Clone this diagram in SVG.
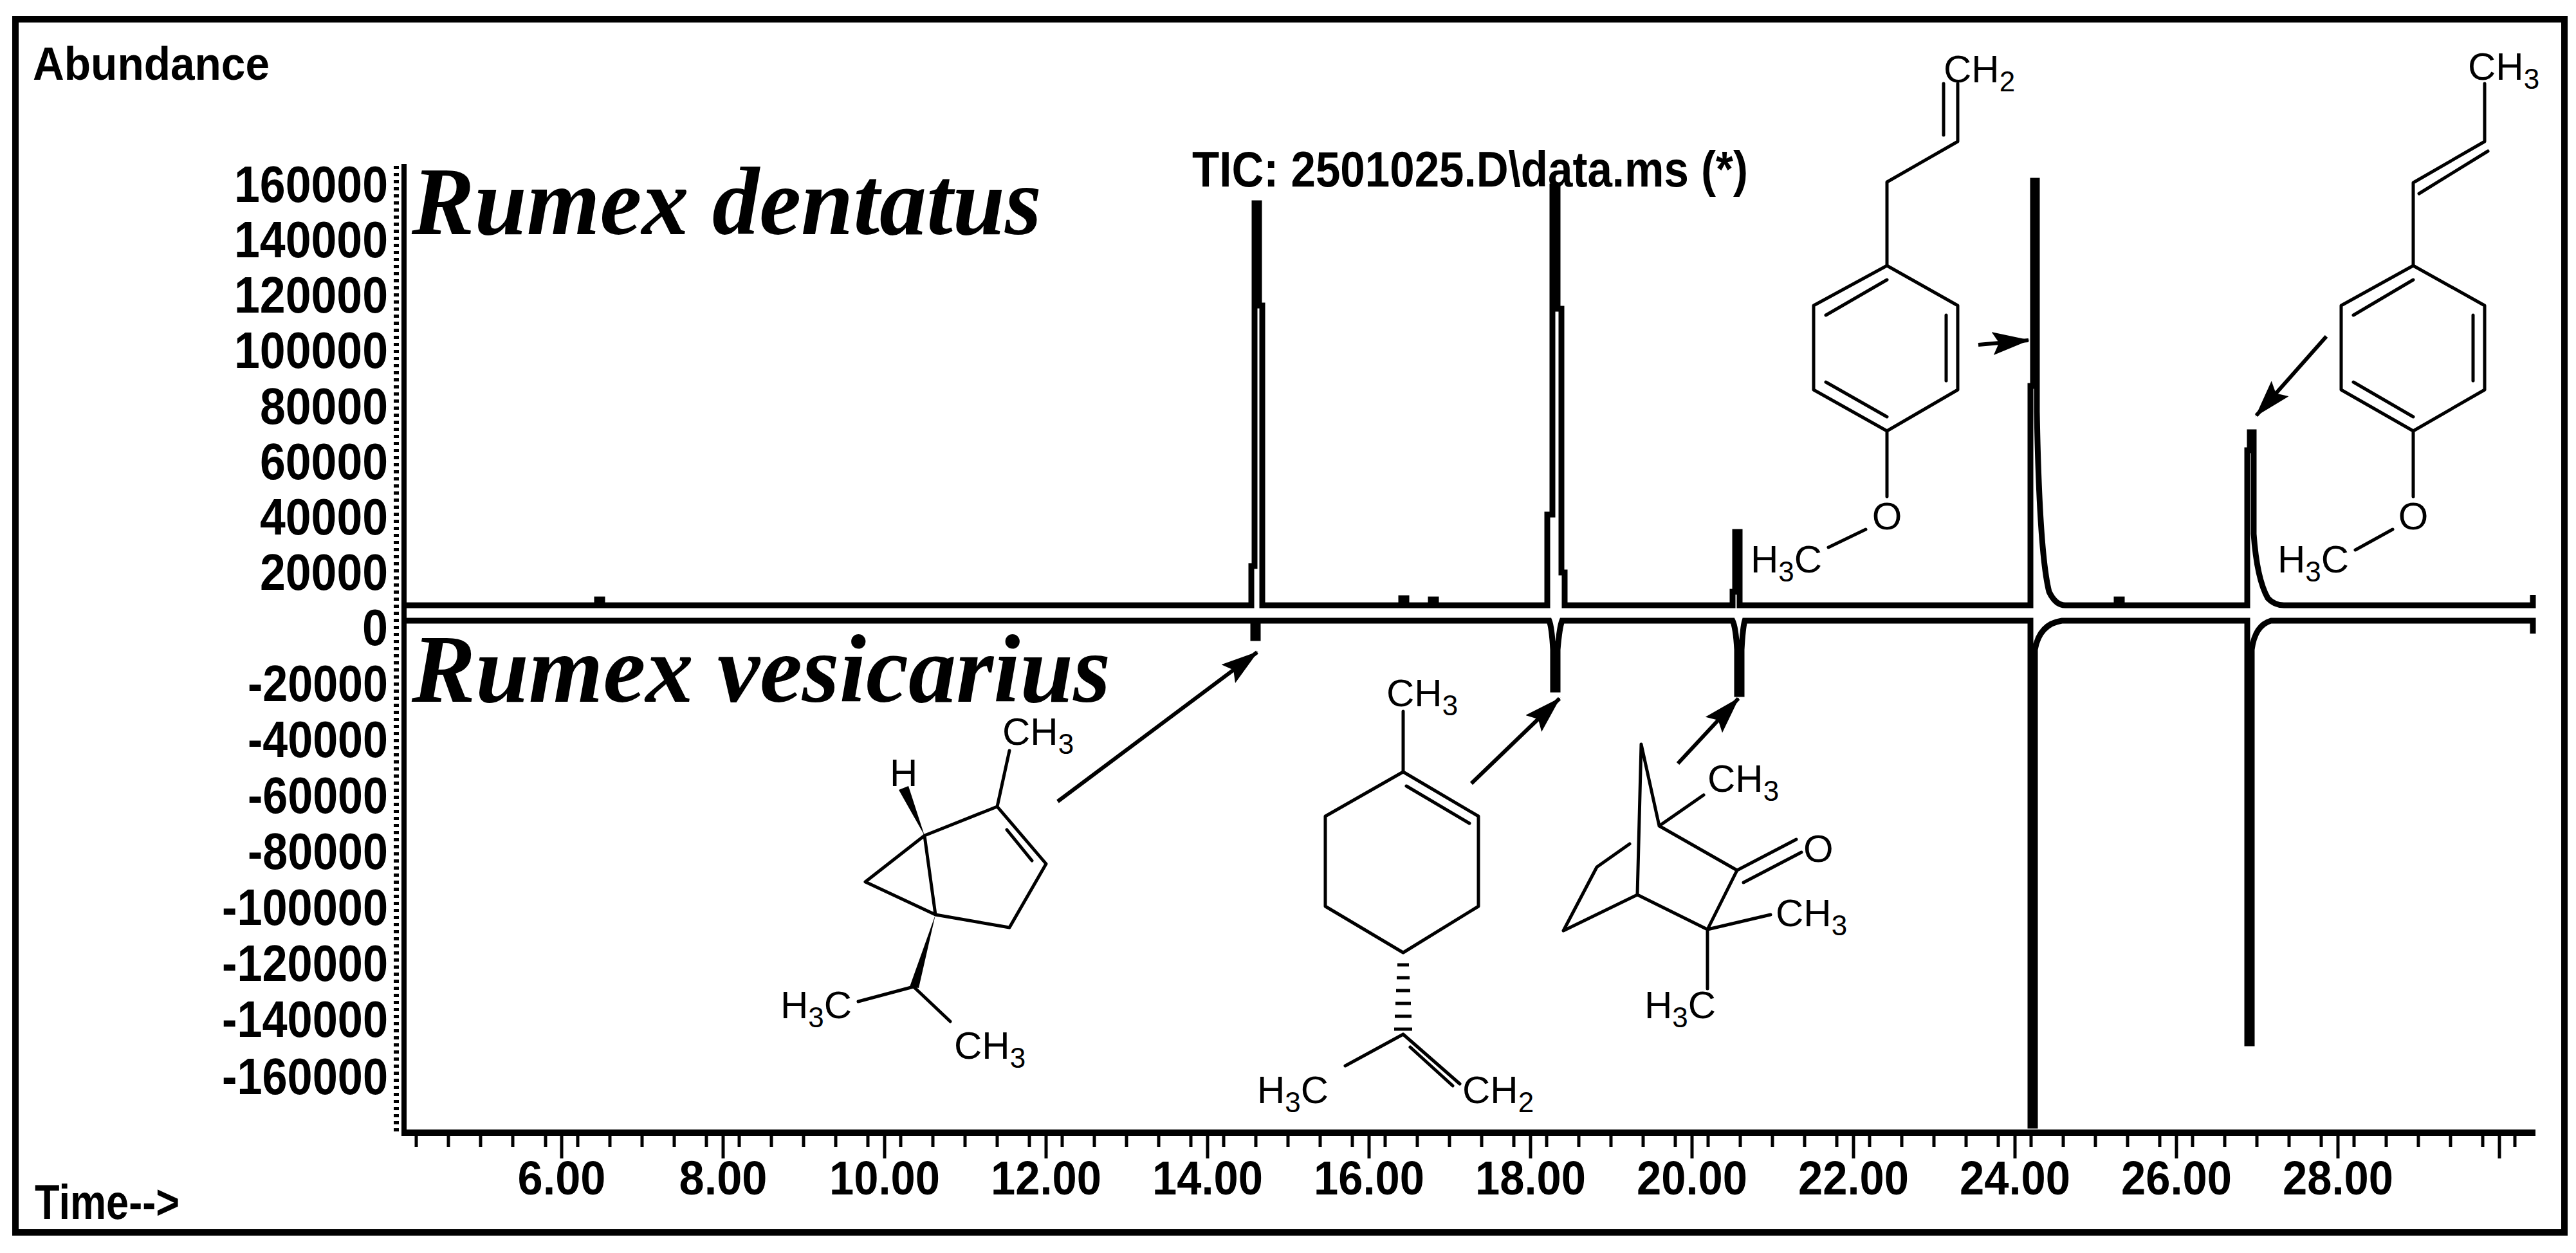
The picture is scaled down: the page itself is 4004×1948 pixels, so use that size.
<svg xmlns="http://www.w3.org/2000/svg" width="4004" height="1948" viewBox="0 0 4004 1948">
<style>
.ax{font-family:"Liberation Sans",Arial,sans-serif;font-weight:bold;fill:#000}
.sp{font-family:"Liberation Serif","Times New Roman",serif;font-style:italic;font-weight:bold;fill:#000}
.ch{font-family:"Liberation Sans",Arial,sans-serif;font-size:60px;fill:#000}
.bd{stroke:#000;stroke-width:5;fill:none;stroke-linecap:round;stroke-linejoin:round}
.tr{stroke:#000;stroke-width:9;fill:none;stroke-linejoin:miter}
.ar{stroke:#000;stroke-width:6;fill:none}
</style>
<defs>
<marker id="ah" markerUnits="userSpaceOnUse" markerWidth="60" markerHeight="40" refX="56" refY="18" orient="auto">
<path d="M0,0 L58,18 L0,36 L10,18 Z" fill="#000"/>
</marker>
</defs>
<rect x="24" y="30" width="3962" height="1886" fill="#fff" stroke="#000" stroke-width="10"/>
<g id="axes">
<text class="ax" x="51" y="124" font-size="72" textLength="368" lengthAdjust="spacingAndGlyphs">Abundance</text>
<text class="ax" x="54" y="1895" font-size="76" textLength="225" lengthAdjust="spacingAndGlyphs">Time--&gt;</text>
<text class="ax" x="1853" y="290" font-size="78" textLength="864" lengthAdjust="spacingAndGlyphs">TIC: 2501025.D\data.ms (*)</text>
<g class="ax" font-size="80" text-anchor="end">
<text x="603" y="314" textLength="239" lengthAdjust="spacingAndGlyphs">160000</text>
<text x="603" y="400" textLength="239" lengthAdjust="spacingAndGlyphs">140000</text>
<text x="603" y="486" textLength="239" lengthAdjust="spacingAndGlyphs">120000</text>
<text x="603" y="572" textLength="239" lengthAdjust="spacingAndGlyphs">100000</text>
<text x="603" y="659" textLength="199" lengthAdjust="spacingAndGlyphs">80000</text>
<text x="603" y="745" textLength="199" lengthAdjust="spacingAndGlyphs">60000</text>
<text x="603" y="831" textLength="199" lengthAdjust="spacingAndGlyphs">40000</text>
<text x="603" y="917" textLength="199" lengthAdjust="spacingAndGlyphs">20000</text>
<text x="603" y="1003" textLength="40" lengthAdjust="spacingAndGlyphs">0</text>
<text x="603" y="1090" textLength="218" lengthAdjust="spacingAndGlyphs">-20000</text>
<text x="603" y="1177" textLength="218" lengthAdjust="spacingAndGlyphs">-40000</text>
<text x="603" y="1264" textLength="218" lengthAdjust="spacingAndGlyphs">-60000</text>
<text x="603" y="1351" textLength="218" lengthAdjust="spacingAndGlyphs">-80000</text>
<text x="603" y="1438" textLength="258" lengthAdjust="spacingAndGlyphs">-100000</text>
<text x="603" y="1525" textLength="258" lengthAdjust="spacingAndGlyphs">-120000</text>
<text x="603" y="1612" textLength="258" lengthAdjust="spacingAndGlyphs">-140000</text>
<text x="603" y="1701" textLength="258" lengthAdjust="spacingAndGlyphs">-160000</text>
</g>
<line x1="628" y1="255" x2="628" y2="1765" stroke="#000" stroke-width="8"/>
<line x1="616" y1="258" x2="616" y2="1765" stroke="#000" stroke-width="8" stroke-dasharray="5,6"/>
<line x1="624" y1="1761" x2="3941" y2="1761" stroke="#000" stroke-width="10"/>
<path d="M647,1765v18 M697,1765v18 M747,1765v18 M797,1765v18 M848,1765v18 M898,1765v18 M948,1765v18 M998,1765v18 M1048,1765v18 M1098,1765v18 M1149,1765v18 M1199,1765v18 M1249,1765v18 M1299,1765v18 M1349,1765v18 M1400,1765v18 M1450,1765v18 M1500,1765v18 M1550,1765v18 M1600,1765v18 M1651,1765v18 M1701,1765v18 M1751,1765v18 M1801,1765v18 M1851,1765v18 M1902,1765v18 M1952,1765v18 M2002,1765v18 M2052,1765v18 M2102,1765v18 M2153,1765v18 M2203,1765v18 M2253,1765v18 M2303,1765v18 M2353,1765v18 M2404,1765v18 M2454,1765v18 M2504,1765v18 M2554,1765v18 M2604,1765v18 M2655,1765v18 M2705,1765v18 M2755,1765v18 M2805,1765v18 M2855,1765v18 M2906,1765v18 M2956,1765v18 M3006,1765v18 M3056,1765v18 M3106,1765v18 M3157,1765v18 M3207,1765v18 M3257,1765v18 M3307,1765v18 M3357,1765v18 M3408,1765v18 M3458,1765v18 M3508,1765v18 M3558,1765v18 M3608,1765v18 M3659,1765v18 M3709,1765v18 M3759,1765v18 M3809,1765v18 M3859,1765v18 M3909,1765v18" stroke="#000" stroke-width="5"/>
<path d="M873,1765v36 M1124,1765v36 M1375,1765v36 M1626,1765v36 M1877,1765v36 M2128,1765v36 M2379,1765v36 M2630,1765v36 M2881,1765v36 M3132,1765v36 M3383,1765v36 M3634,1765v36 M3885,1765v36" stroke="#000" stroke-width="5"/>
<g class="ax" font-size="74" text-anchor="middle">
<text x="873" y="1857" textLength="137" lengthAdjust="spacingAndGlyphs">6.00</text>
<text x="1124" y="1857" textLength="137" lengthAdjust="spacingAndGlyphs">8.00</text>
<text x="1375" y="1857" textLength="172" lengthAdjust="spacingAndGlyphs">10.00</text>
<text x="1626" y="1857" textLength="172" lengthAdjust="spacingAndGlyphs">12.00</text>
<text x="1877" y="1857" textLength="172" lengthAdjust="spacingAndGlyphs">14.00</text>
<text x="2128" y="1857" textLength="172" lengthAdjust="spacingAndGlyphs">16.00</text>
<text x="2379" y="1857" textLength="172" lengthAdjust="spacingAndGlyphs">18.00</text>
<text x="2630" y="1857" textLength="172" lengthAdjust="spacingAndGlyphs">20.00</text>
<text x="2881" y="1857" textLength="172" lengthAdjust="spacingAndGlyphs">22.00</text>
<text x="3132" y="1857" textLength="172" lengthAdjust="spacingAndGlyphs">24.00</text>
<text x="3383" y="1857" textLength="172" lengthAdjust="spacingAndGlyphs">26.00</text>
<text x="3634" y="1857" textLength="172" lengthAdjust="spacingAndGlyphs">28.00</text>
</g>
</g>
<g id="traces">
<path class="tr" d="M632,941 H928 V932 H936 V941 H1945 V880 H1950 V316 H1957 V475 H1962 V941 H2178 V930 H2186 V941 H2224 V932 H2232 V941 H2405 V800 H2413 V290 H2421 V480 H2427 V890 H2432 V941 H2693 V920 H2697 V827 H2704 V941 H3156 V600 H3160 V281 H3166 V640 Q3170,860 3185,920 Q3195,941 3210,941 H3290 V932 H3298 V941 H3493 V700 H3497 V672 H3503 V830 Q3508,900 3525,930 Q3535,941 3550,941 H3937 V925"/>
<path class="tr" d="M632,965 H1948 V992 H1955 V965 H2408 Q2412,975 2414,1010 V1072 H2421 V1010 Q2424,975 2428,965 H2693 Q2698,975 2700,1010 V1079 H2707 V1010 Q2709,975 2712,965 H3156 V1750 H3163 V1010 Q3170,970 3205,965 H3493 V1622 H3500 V1010 Q3505,972 3530,965 H3937 V985"/>
</g>
<g id="labels">
<text class="sp" x="640" y="364" font-size="150" textLength="979" lengthAdjust="spacingAndGlyphs">Rumex dentatus</text>
<text class="sp" x="640" y="1091" font-size="150" textLength="1086" lengthAdjust="spacingAndGlyphs">Rumex vesicarius</text>
</g>
<g id="connectors">
<line class="ar" x1="1644" y1="1246" x2="1954" y2="1014" marker-end="url(#ah)"/>
<line class="ar" x1="2287" y1="1218" x2="2424" y2="1086" marker-end="url(#ah)"/>
<line class="ar" x1="2608" y1="1187" x2="2702" y2="1086" marker-end="url(#ah)"/>
<line class="ar" x1="3075" y1="536" x2="3153" y2="529" marker-end="url(#ah)"/>
<line class="ar" x1="3616" y1="523" x2="3507" y2="646" marker-end="url(#ah)"/>
</g>
<g id="sabinene">
<path class="bd" d="M1437,1299 L1550,1254 L1626,1343 L1569,1442 L1454,1422 L1437,1299 M1437,1299 L1345,1371 L1454,1422 M1550,1254 L1569,1167 M1565,1290 L1604,1338 M1420,1534 L1334,1557 M1420,1534 L1477,1588"/>
<path d="M1397,1228 L1412,1222 L1437,1299 Z" fill="#000"/>
<path d="M1454,1422 L1414,1534 L1428,1536 Z" fill="#000"/>
<text class="ch" x="1383" y="1222">H</text>
<text class="ch" x="1558" y="1158">CH<tspan font-size="44" dy="14">3</tspan></text>
<text class="ch" x="1213" y="1583">H<tspan font-size="44" dy="14">3</tspan><tspan dy="-14">C</tspan></text>
<text class="ch" x="1483" y="1646">CH<tspan font-size="44" dy="14">3</tspan></text>
</g>
<g id="limonene">
<path class="bd" d="M2181,1200 L2298,1269 L2298,1409 L2181,1481 L2060,1409 L2060,1269 Z M2186,1222 L2284,1280 M2181,1200 L2181,1106 M2181,1608 L2091,1657 M2181,1608 L2269,1685 M2192,1628 L2258,1688"/>
<path d="M2172,1500h18 M2171,1520h20 M2170,1540h22 M2169,1560h24 M2168,1580h26 M2167,1600h28" stroke="#000" stroke-width="5"/>
<text class="ch" x="2155" y="1098">CH<tspan font-size="44" dy="14">3</tspan></text>
<text class="ch" x="1954" y="1715">H<tspan font-size="44" dy="14">3</tspan><tspan dy="-14">C</tspan></text>
<text class="ch" x="2273" y="1715">CH<tspan font-size="44" dy="14">2</tspan></text>
</g>
<g id="camphor">
<path class="bd" d="M2551,1157 L2579,1284 M2551,1157 L2545,1391 M2579,1284 L2648,1236 M2579,1284 L2700,1353 L2654,1445 L2545,1391 L2430,1447 L2482,1348 L2533,1312 M2700,1353 L2792,1305 M2710,1372 L2800,1325 M2654,1445 L2752,1422 M2654,1445 L2654,1537"/>
<text class="ch" x="2654" y="1231">CH<tspan font-size="44" dy="14">3</tspan></text>
<text class="ch" x="2803" y="1340">O</text>
<text class="ch" x="2760" y="1440">CH<tspan font-size="44" dy="14">3</tspan></text>
<text class="ch" x="2556" y="1583">H<tspan font-size="44" dy="14">3</tspan><tspan dy="-14">C</tspan></text>
</g>
<g id="estragole">
<path class="bd" d="M2933,413 L3043,475 L3043,606 L2933,670 L2819,606 L2819,475 Z M2933,435 L2838,490 M3025,490 L3025,592 M2933,648 L2838,594 M2933,413 L2933,283 L3043,220 L3043,130 M3021,210 L3021,130 M2933,670 L2933,772 M2900,823 L2842,851"/>
<text class="ch" x="3021" y="128">CH<tspan font-size="44" dy="14">2</tspan></text>
<text class="ch" x="2933" y="823" text-anchor="middle">O</text>
<text class="ch" x="2721" y="890">H<tspan font-size="44" dy="14">3</tspan><tspan dy="-14">C</tspan></text>
</g>
<g id="anethole">
<path class="bd" d="M3751,413 L3862,475 L3862,606 L3751,670 L3639,606 L3639,475 Z M3751,435 L3658,490 M3844,490 L3844,592 M3751,648 L3658,594 M3751,413 L3751,284 L3862,220 L3862,130 M3760,301 L3867,235 M3751,670 L3751,772 M3719,823 L3661,855"/>
<text class="ch" x="3836" y="124">CH<tspan font-size="44" dy="14">3</tspan></text>
<text class="ch" x="3751" y="823" text-anchor="middle">O</text>
<text class="ch" x="3540" y="890">H<tspan font-size="44" dy="14">3</tspan><tspan dy="-14">C</tspan></text>
</g>
</svg>
